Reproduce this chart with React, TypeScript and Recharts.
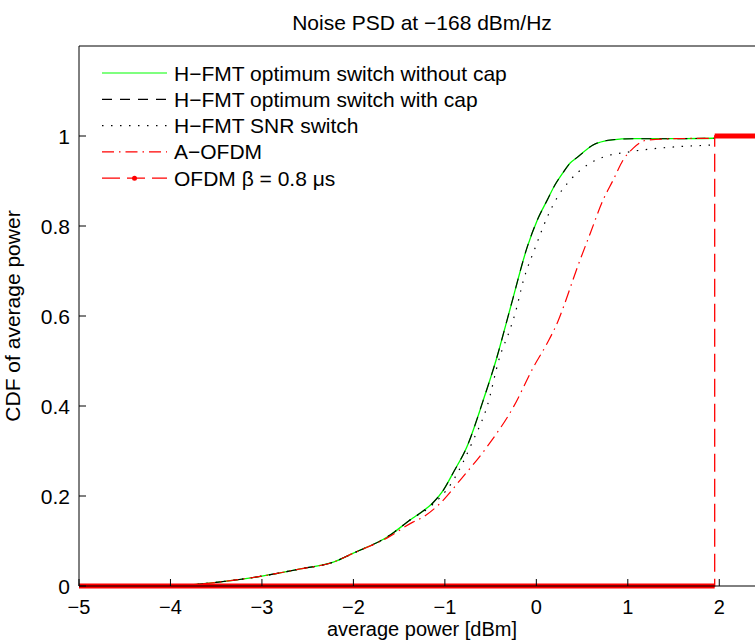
import React from 'react';
import { LineChart, Line, XAxis, YAxis, Legend } from 'recharts';

const FONT = '"Liberation Sans", Arial, Helvetica, sans-serif';

const titleText = 'Noise PSD at −168 dBm/Hz';
const xLabelText = 'average power [dBm]';
const yLabelText = 'CDF of average power';

const xTicks = [-5, -4, -3, -2, -1, 0, 1, 2];
const xTickLabels = ['−5', '−4', '−3', '−2', '−1', '0', '1', '2'];
const yTicks = [0, 0.2, 0.4, 0.6, 0.8, 1];
const yTickLabels = ['0', '0.2', '0.4', '0.6', '0.8', '1'];

const seriesNames = [
  'H−FMT optimum switch without cap',
  'H−FMT optimum switch with cap',
  'H−FMT SNR switch',
  'A−OFDM',
  'OFDM β = 0.8 μs',
];

// H-FMT optimum switch without cap (green)
const optNoCapX = [-3.9, -3.5, -3.0, -2.58, -2.22, -2.0, -1.63, -1.35, -1.27, -1.13, -1.02, -0.9, -0.76, -0.58, -0.43, -0.32, -0.26, -0.1, 0.01, 0.12, 0.2, 0.29, 0.37, 0.45, 0.62, 0.81, 1.06, 1.5, 1.95];
const optNoCapY = [0, 0.008, 0.022, 0.038, 0.053, 0.073, 0.109, 0.151, 0.162, 0.185, 0.212, 0.255, 0.309, 0.413, 0.509, 0.591, 0.636, 0.753, 0.813, 0.858, 0.89, 0.918, 0.94, 0.953, 0.98, 0.991, 0.994, 0.994, 0.995];

// H-FMT optimum switch with cap (black dashed)
const optCapX = [-3.9, -3.5, -3.0, -2.58, -2.22, -2.0, -1.63, -1.35, -1.27, -1.13, -1.02, -0.9, -0.76, -0.58, -0.43, -0.32, -0.26, -0.1, 0.01, 0.12, 0.2, 0.29, 0.37, 0.45, 0.62, 0.81, 1.06, 1.5, 1.95];
const optCapY = [0, 0.008, 0.022, 0.038, 0.053, 0.073, 0.109, 0.151, 0.162, 0.185, 0.212, 0.255, 0.309, 0.413, 0.509, 0.591, 0.636, 0.753, 0.813, 0.858, 0.89, 0.918, 0.94, 0.953, 0.98, 0.991, 0.994, 0.994, 0.995];

// H-FMT SNR switch (black dotted)
const snrX = [-3.9, -3.5, -3.0, -2.58, -2.22, -2.0, -1.63, -1.35, -1.2, -0.92, -0.69, -0.54, -0.4, -0.29, -0.23, -0.14, -0.01, 0.12, 0.23, 0.37, 0.56, 0.73, 0.99, 1.25, 1.93];
const snrY = [0, 0.008, 0.022, 0.038, 0.053, 0.073, 0.109, 0.151, 0.17, 0.231, 0.324, 0.398, 0.509, 0.569, 0.607, 0.68, 0.753, 0.82, 0.864, 0.902, 0.936, 0.953, 0.964, 0.971, 0.98];

// A-OFDM (red dash-dot)
const aofdmX = [-3.9, -3.5, -3.0, -2.58, -2.22, -2.0, -1.63, -1.35, -1.24, -1.05, -0.83, -0.54, -0.25, -0.03, 0.12, 0.24, 0.3, 0.45, 0.59, 0.73, 0.84, 0.95, 1.06, 1.21, 1.5, 1.95];
const aofdmY = [0, 0.008, 0.022, 0.038, 0.053, 0.073, 0.107, 0.142, 0.153, 0.184, 0.236, 0.309, 0.398, 0.487, 0.54, 0.59, 0.622, 0.709, 0.784, 0.858, 0.902, 0.947, 0.973, 0.991, 0.994, 0.995];

// OFDM beta = 0.8 us (red dashed step)
const ofdmX = [-5, 1.95, 1.95, 2.5];
const ofdmY = [0, 0, 1, 1];

const toPoints = (xs: number[], ys: number[]) => xs.map((x, i) => ({ x, y: ys[i] }));

// thick marker band: same points, broken where the step is vertical
const toFlatSegments = (xs: number[], ys: number[]) => {
  const out: { x: number; y: number | null }[] = [];
  xs.forEach((x, i) => {
    if (i > 0 && xs[i - 1] === x) out.push({ x, y: null });
    out.push({ x, y: ys[i] });
  });
  return out;
};

const optNoCapData = toPoints(optNoCapX, optNoCapY);
const optCapData = toPoints(optCapX, optCapY);
const snrData = toPoints(snrX, snrY);
const aofdmData = toPoints(aofdmX, aofdmY);
const ofdmData = toPoints(ofdmX, ofdmY);
const ofdmFlatData = toFlatSegments(ofdmX, ofdmY);

const GREEN = '#00ff00';
const RED = '#ff0000';
const DASH = '10 8';
const DOT = '1.5 7.5';
const DASHDOT = '12 5 1.5 5';
const OFDM_DASH = '18 7';

const textProps = { fontFamily: FONT, fontSize: 21, fill: '#000' };
const axisTextProps = { fontFamily: FONT, fontSize: 20, fill: '#000' };

const BottomTick = (props: any) => {
  const { x, y, payload } = props;
  const i = xTicks.indexOf(payload.value);
  return (
    <g>
      <line x1={x} x2={x} y1={y} y2={y - 7} stroke="#000" strokeWidth={1} />
      <text x={x} y={y + 28} textAnchor="middle" {...axisTextProps}>{xTickLabels[i]}</text>
    </g>
  );
};

const TopTick = (props: any) => {
  const { x, y } = props;
  return <line x1={x} x2={x} y1={y} y2={y + 7} stroke="#000" strokeWidth={1} />;
};

const LeftTick = (props: any) => {
  const { x, y, payload } = props;
  const i = yTicks.indexOf(payload.value);
  return (
    <g>
      <line x1={x} x2={x + 7} y1={y} y2={y} stroke="#000" strokeWidth={1} />
      <text x={x - 9} y={y + 7.5} textAnchor="end" {...textProps}>{yTickLabels[i]}</text>
    </g>
  );
};

const RightTick = (props: any) => {
  const { x, y } = props;
  return <line x1={x} x2={x - 7} y1={y} y2={y} stroke="#000" strokeWidth={1} />;
};

const legendStyles = [
  { stroke: GREEN, dash: undefined as string | undefined, dot: false },
  { stroke: '#000', dash: DASH, dot: false },
  { stroke: '#000', dash: DOT, dot: false },
  { stroke: RED, dash: DASHDOT, dot: false },
  { stroke: RED, dash: OFDM_DASH, dot: true },
];

const renderLegend = () => (
  <svg width={600} height={220} style={{ display: 'block', overflow: 'visible' }}>
    {seriesNames.map((name, i) => {
      const cy = 73 + i * 26.3;
      const st = legendStyles[i];
      return (
        <g key={name}>
          <line x1={102} x2={167} y1={cy} y2={cy} stroke={st.stroke} strokeWidth={1.2} strokeDasharray={st.dash} />
          {st.dot && <circle cx={134.5} cy={cy} r={2.5} fill={st.stroke} />}
          <text x={174} y={cy + 7.5} {...textProps}>{name}</text>
        </g>
      );
    })}
  </svg>
);

export default function App() {
  return (
    <div style={{ position: 'fixed', left: 0, top: 0, width: 755, height: 641, overflow: 'hidden', background: '#fff' }}>
      <LineChart width={785} height={641} margin={{ top: 0, left: 0, right: 0, bottom: 0 }}>
        <XAxis
          xAxisId="b"
          type="number"
          dataKey="x"
          domain={[-5, 2.5]}
          ticks={xTicks}
          height={55}
          tickSize={0}
          tickMargin={0}
          tickLine={false}
          tick={<BottomTick />}
          axisLine={{ stroke: '#000', strokeWidth: 1 }}
          interval={0}
          label={{
            content: (p: any) => {
              const vb = p.viewBox || { x: 79, y: 586, width: 686, height: 55 };
              return (
                <text x={vb.x + vb.width / 2} y={vb.y + 50.3} textAnchor="middle" {...axisTextProps}>
                  {xLabelText}
                </text>
              );
            },
          }}
        />
        <XAxis
          xAxisId="t"
          orientation="top"
          type="number"
          dataKey="x"
          domain={[-5, 2.5]}
          ticks={xTicks}
          height={46}
          tickSize={0}
          tickMargin={0}
          tickLine={false}
          tick={<TopTick />}
          axisLine={{ stroke: '#000', strokeWidth: 1 }}
          interval={0}
          label={{
            content: (p: any) => {
              const vb = p.viewBox || { x: 79, y: 0, width: 686, height: 46 };
              return (
                <text x={vb.x + vb.width / 2} y={vb.y + vb.height - 16.5} textAnchor="middle" {...textProps}>
                  {titleText}
                </text>
              );
            },
          }}
        />
        <YAxis
          yAxisId="l"
          type="number"
          domain={[0, 1.2]}
          ticks={yTicks}
          width={79}
          tickSize={0}
          tickMargin={0}
          tickLine={false}
          tick={<LeftTick />}
          axisLine={{ stroke: '#000', strokeWidth: 1 }}
          interval={0}
          label={{
            content: (p: any) => {
              const vb = p.viewBox || { x: 0, y: 46, width: 79, height: 540 };
              const cx = vb.x + vb.width - 59;
              const cy = vb.y + vb.height / 2;
              return (
                <text x={cx} y={cy} textAnchor="middle" transform={`rotate(-90, ${cx}, ${cy})`} {...textProps}>
                  {yLabelText}
                </text>
              );
            },
          }}
        />
        <YAxis
          yAxisId="r"
          orientation="right"
          type="number"
          domain={[0, 1.2]}
          ticks={yTicks}
          width={20}
          tickSize={0}
          tickMargin={0}
          tickLine={false}
          tick={<RightTick />}
          axisLine={{ stroke: '#000', strokeWidth: 1 }}
          interval={0}
        />
        <Legend
          layout="vertical"
          align="center"
          verticalAlign="middle"
          wrapperStyle={{ position: 'absolute', left: 0, top: 0, width: 600, height: 220, margin: 0, padding: 0 }}
          content={renderLegend}
        />
        <Line xAxisId="b" yAxisId="l" type="monotone" data={optNoCapData} dataKey="y" name={seriesNames[0]} stroke={GREEN} strokeWidth={1.3} dot={false} isAnimationActive={false} />
        <Line xAxisId="b" yAxisId="l" type="monotone" data={optCapData} dataKey="y" name={seriesNames[1]} stroke="#000" strokeWidth={1.1} strokeDasharray={DASH} dot={false} isAnimationActive={false} />
        <Line xAxisId="b" yAxisId="l" type="monotone" data={snrData} dataKey="y" name={seriesNames[2]} stroke="#000" strokeWidth={1.2} strokeDasharray={DOT} dot={false} isAnimationActive={false} />
        <Line xAxisId="b" yAxisId="l" type="monotone" data={aofdmData} dataKey="y" name={seriesNames[3]} stroke={RED} strokeWidth={1.2} strokeDasharray={DASHDOT} dot={false} isAnimationActive={false} />
        <Line xAxisId="b" yAxisId="l" data={ofdmData} dataKey="y" name={seriesNames[4]} stroke={RED} strokeWidth={1.3} strokeDasharray={OFDM_DASH} dot={false} isAnimationActive={false} />
        <Line xAxisId="b" yAxisId="l" data={ofdmFlatData} dataKey="y" legendType="none" stroke={RED} strokeWidth={5} dot={false} connectNulls={false} isAnimationActive={false} />
      </LineChart>
    </div>
  );
}
